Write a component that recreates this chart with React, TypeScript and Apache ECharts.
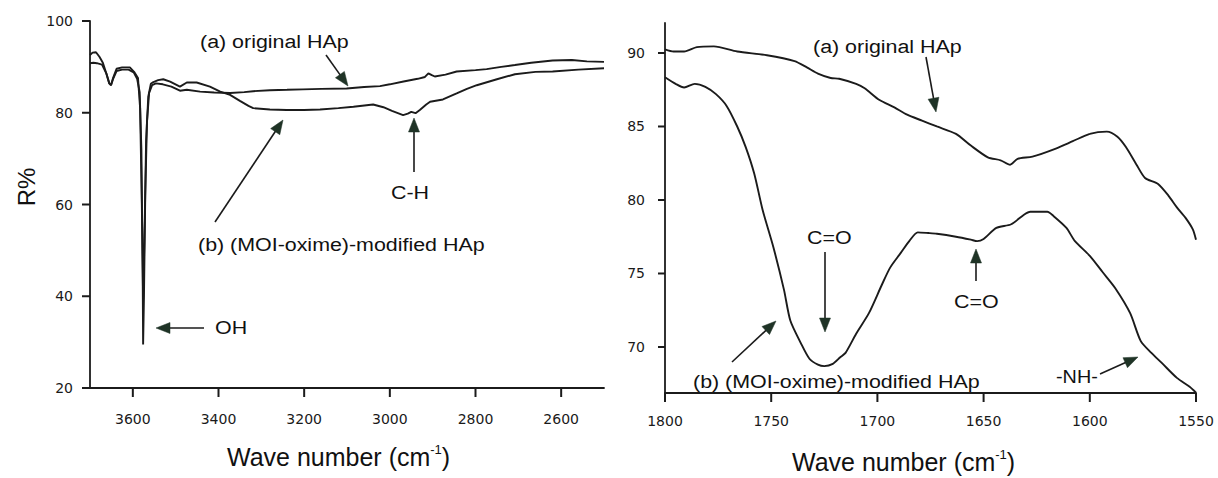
import React, { useEffect, useRef } from "react";
import * as echarts from "echarts";

// ---------- data ----------
const leftXTicks = [3600, 3400, 3200, 3000, 2800, 2600];
const leftYTicks = [20, 40, 60, 80, 100];
const rightXTicks = [1800, 1750, 1700, 1650, 1600, 1550];
const rightYTicks = [70, 75, 80, 85, 90];

// (a) original HAp, 3700-2500 cm-1
const leftOriginal: [number, number][] = [
  [3700, 90.8], [3692, 90.9], [3684, 90.8], [3672, 90.5], [3662, 88.6], [3655, 86.4], [3651, 86.0],
  [3646, 87.4], [3638, 89.1], [3625, 89.4], [3610, 89.4], [3598, 88.8], [3590, 87.4], [3584, 84.5],
  [3580, 72], [3577, 45], [3576, 29.5], [3574, 40], [3571, 62], [3567, 78], [3562, 84.3], [3555, 86.0],
  [3546, 86.4], [3530, 86.2], [3510, 85.7], [3490, 84.8], [3474, 85.0], [3443, 84.6], [3410, 84.4],
  [3373, 84.3], [3340, 84.5], [3319, 84.7], [3280, 84.9], [3240, 85.0], [3203, 85.1], [3160, 85.2],
  [3101, 85.3], [3060, 85.6], [3023, 85.8], [3000, 86.2], [2968, 86.8], [2935, 87.4], [2918, 87.8],
  [2910, 88.6], [2902, 88.2], [2895, 87.9], [2870, 88.3], [2844, 89.0], [2800, 89.3], [2774, 89.5],
  [2740, 90.0], [2708, 90.4], [2670, 90.9], [2620, 91.4], [2575, 91.5], [2540, 91.2], [2500, 91.1],
];

// (b) (MOI-oxime)-modified HAp, 3700-2500 cm-1
const leftModified: [number, number][] = [
  [3700, 92.6], [3694, 93.1], [3686, 93.2], [3678, 92.2], [3670, 90.9], [3662, 88.6], [3655, 86.4],
  [3651, 86.0], [3646, 87.6], [3638, 89.6], [3625, 89.9], [3607, 89.9], [3596, 88.8], [3588, 87.6],
  [3583, 81], [3579, 60], [3576, 39.5], [3573, 52], [3569, 74], [3564, 83.5], [3558, 86.3], [3552, 86.7],
  [3541, 87.1], [3529, 87.3], [3513, 86.8], [3490, 85.7], [3474, 86.6], [3451, 86.6], [3420, 85.7],
  [3396, 84.6], [3373, 83.9], [3350, 82.6], [3330, 81.5], [3319, 81.0], [3280, 80.7], [3241, 80.6],
  [3200, 80.6], [3163, 80.7], [3120, 81.0], [3085, 81.3], [3039, 81.8], [3015, 81.2], [2995, 80.4],
  [2969, 79.5], [2958, 79.8], [2950, 80.2], [2940, 79.9], [2930, 80.6], [2915, 81.8], [2906, 82.4],
  [2876, 82.9], [2844, 84.2], [2820, 85.2], [2797, 86.0], [2750, 87.3], [2708, 88.4], [2660, 88.9],
  [2620, 89.0], [2560, 89.4], [2500, 89.7],
];

// (a) original HAp, 1800-1550 cm-1
const rightOriginal: [number, number][] = [
  [1800, 90.25], [1796, 90.1], [1791, 90.1], [1785, 90.4], [1777, 90.45], [1766, 90.1], [1752, 89.85],
  [1739, 89.45], [1733, 89.0], [1728, 88.6], [1722, 88.3], [1718, 88.25], [1710, 87.9], [1706, 87.6],
  [1699, 86.8], [1692, 86.3], [1686, 85.8], [1679, 85.4], [1672, 85.0], [1663, 84.5], [1656, 83.7],
  [1648, 82.9], [1642, 82.7], [1637.5, 82.4], [1634, 82.8], [1627, 82.95], [1616, 83.5], [1608, 84.0],
  [1600, 84.5], [1592, 84.65], [1587, 84.3], [1583, 83.6], [1578, 82.4], [1574, 81.5], [1568, 81.1],
  [1563, 80.3], [1559, 79.5], [1555, 78.8], [1551.5, 78.0], [1550, 77.3],
];

// (b) (MOI-oxime)-modified HAp, 1800-1550 cm-1
const rightModified: [number, number][] = [
  [1800, 88.35], [1795, 87.9], [1791, 87.65], [1786, 87.9], [1781, 87.7], [1776, 87.2], [1771, 86.4],
  [1766, 85.0], [1762, 83.6], [1758, 81.8], [1754, 79.3], [1749, 76.8], [1744, 73.9], [1741, 71.8],
  [1736, 70.25], [1732, 69.2], [1728, 68.8], [1725, 68.7], [1721, 68.85], [1717.5, 69.3], [1715, 69.6],
  [1710, 70.9], [1704, 72.3], [1698, 74.2], [1694, 75.4], [1689, 76.4], [1685, 77.2], [1681, 77.8],
  [1676, 77.75], [1672, 77.7], [1663, 77.5], [1656, 77.3], [1653, 77.2], [1650, 77.35], [1644, 78.1],
  [1637, 78.35], [1631, 79.0], [1628, 79.2], [1620, 79.2], [1617, 78.9], [1611, 78.1], [1607, 77.2],
  [1600, 76.2], [1594, 75.1], [1588, 74.0], [1581, 72.3], [1576, 70.4], [1571, 69.6], [1566, 68.9],
  [1559, 67.9], [1553, 67.3], [1550, 66.9],
];

// axis extents
const leftXRange = [2500, 3700];
const leftYRange = [20, 100];
const rightXRange = [1550, 1800];
const rightYRange = [66.87, 92.04];

// ---------- styling ----------
const INK = "#1b1b1b";
const HEAD = "#1f3326";
const TEXT_FONT = '"Liberation Sans", Arial, Helvetica, sans-serif';
const TICK_FONT = '"DejaVu Sans", "Liberation Sans", sans-serif';

function label(text: string, x: number, y: number, size = 18, sx = 1.19) {
  return {
    type: "text",
    x,
    y,
    scaleX: sx,
    silent: true,
    style: {
      text,
      fill: "#111",
      font: `${size}px ${TEXT_FONT}`,
      textAlign: "left",
      textVerticalAlign: "middle",
      align: "left",
      verticalAlign: "middle",
    },
  };
}

function arrow(x1: number, y1: number, x2: number, y2: number, hl = 14, hw = 11) {
  const dx = x2 - x1;
  const dy = y2 - y1;
  const L = Math.hypot(dx, dy);
  const ux = dx / L;
  const uy = dy / L;
  const bx = x2 - ux * hl;
  const by = y2 - uy * hl;
  const px = (-uy * hw) / 2;
  const py = (ux * hw) / 2;
  return [
    {
      type: "line",
      silent: true,
      shape: { x1, y1, x2: bx + ux, y2: by + uy },
      style: { stroke: INK, lineWidth: 1.6 },
    },
    {
      type: "polygon",
      silent: true,
      shape: { points: [[x2, y2], [bx + px, by + py], [bx - px, by - py]] },
      style: { fill: HEAD, stroke: HEAD, lineWidth: 0.5 },
    },
  ];
}

function axisTitle(x: number, y: number) {
  return {
    type: "text",
    x,
    y,
    silent: true,
    style: {
      text: "{a|Wave number (cm}{s|-1}{a|)}",
      fill: "#111",
      textAlign: "left",
      textVerticalAlign: "middle",
      align: "left",
      verticalAlign: "middle",
      rich: {
        a: { fontSize: 25, fontFamily: TEXT_FONT, fill: "#111", lineHeight: 28 },
        s: { fontSize: 13, fontFamily: TEXT_FONT, fill: "#111", verticalAlign: "top", lineHeight: 14 },
      },
    },
  };
}

const axisLineStyle = { color: INK, width: 1.8 };
const plain = (v: number) => String(v);
const labelStyle = { color: "#1a1a1a", fontFamily: TICK_FONT, fontSize: 14, formatter: plain };

const annotations: any[] = [
  // left panel
  {
    type: "text",
    x: 26,
    y: 187,
    rotation: Math.PI / 2,
    silent: true,
    style: {
      text: "R%",
      fill: "#111",
      font: `24px ${TEXT_FONT}`,
      textAlign: "center",
      textVerticalAlign: "middle",
      align: "center",
      verticalAlign: "middle",
    },
  },
  axisTitle(227, 457),
  label("(a) original HAp", 200, 42),
  ...arrow(326, 55, 348, 86),
  label("(b) (MOI-oxime)-modified HAp", 198, 245),
  ...arrow(215, 222, 283, 120),
  label("C-H", 391, 193),
  ...arrow(414, 172, 414, 118),
  label("OH", 215, 328),
  ...arrow(204, 328, 156, 328),
  // right panel
  axisTitle(792, 462),
  label("(a) original HAp", 813, 47),
  ...arrow(926, 57, 936, 112),
  label("C=O", 807, 238),
  ...arrow(825, 252, 825, 332),
  label("C=O", 954, 302),
  ...arrow(976, 281, 976, 249),
  label("(b) (MOI-oxime)-modified HAp", 693, 382),
  ...arrow(732, 362, 776, 321),
  label("-NH-", 1056, 377, 18, 1.1),
  ...arrow(1100, 374, 1138, 357),
];

export default function App() {
  const ref = useRef<HTMLDivElement>(null);

  useEffect(() => {
    if (!ref.current) return;
    const chart = echarts.init(ref.current, undefined, { renderer: "svg" });

    const lineSeries = (data: [number, number][], idx: number, name: string, smooth: number | boolean) => ({
      type: "line",
      name,
      xAxisIndex: idx,
      yAxisIndex: idx,
      data,
      showSymbol: false,
      symbol: "none",
      smooth,
      clip: true,
      lineStyle: { color: INK, width: 1.9 },
      emphasis: { disabled: true },
      silent: true,
    });

    const option: any = {
      animation: false,
      backgroundColor: "#ffffff",
      grid: [
        { left: 90, top: 21, width: 514, height: 367, containLabel: false, outerBoundsMode: "none" },
        { left: 665, top: 23, width: 531, height: 370, containLabel: false, outerBoundsMode: "none" },
      ],
      xAxis: [
        {
          type: "value",
          gridIndex: 0,
          min: leftXRange[0],
          max: leftXRange[1],
          inverse: true,
          position: "bottom",
          axisLine: { show: true, onZero: false, lineStyle: axisLineStyle },
          axisTick: { show: false },
          axisLabel: { show: true, customValues: leftXTicks, margin: 24, ...labelStyle },
          splitLine: { show: false },
        },
        {
          type: "value",
          gridIndex: 1,
          min: rightXRange[0],
          max: rightXRange[1],
          interval: 50,
          inverse: true,
          position: "bottom",
          axisLine: { show: true, onZero: false, lineStyle: axisLineStyle },
          axisTick: { show: false },
          axisLabel: { show: true, margin: 21, ...labelStyle },
          splitLine: { show: false },
        },
      ],
      yAxis: [
        {
          type: "value",
          gridIndex: 0,
          min: leftYRange[0],
          max: leftYRange[1],
          interval: 20,
          axisLine: { show: true, onZero: false, lineStyle: axisLineStyle },
          axisTick: { show: false },
          axisLabel: { show: true, margin: 17, ...labelStyle },
          splitLine: { show: false },
        },
        {
          type: "value",
          gridIndex: 1,
          min: rightYRange[0],
          max: rightYRange[1],
          axisLine: { show: true, onZero: false, lineStyle: axisLineStyle },
          axisTick: { show: false },
          axisLabel: { show: true, customValues: rightYTicks, margin: 20, ...labelStyle },
          splitLine: { show: false },
        },
      ],
      series: [
        lineSeries(leftOriginal, 0, "(a) original HAp", false),
        lineSeries(leftModified, 0, "(b) (MOI-oxime)-modified HAp", false),
        lineSeries(rightOriginal, 1, "(a) original HAp", 0.25),
        lineSeries(rightModified, 1, "(b) (MOI-oxime)-modified HAp", 0.25),
      ],
    };

    chart.setOption(option);

    // tick marks placed through the axes' own scales
    const ticks: any[] = [];
    const tick = (x1: number, y1: number, x2: number, y2: number) =>
      ticks.push({
        type: "line",
        silent: true,
        z: 10,
        shape: { x1, y1, x2, y2 },
        style: { stroke: INK, lineWidth: 2 },
      });
    const toPx = (grid: number, v: [number, number]) =>
      chart.convertToPixel({ gridIndex: grid } as any, v) as unknown as number[];
    leftXTicks.forEach((v) => {
      const p = toPx(0, [v, leftYRange[0]]);
      if (p) tick(p[0], p[1], p[0], p[1] + 9);
    });
    leftYTicks.forEach((v) => {
      const p = toPx(0, [leftXRange[1], v]);
      if (p) tick(p[0] - 8, p[1], p[0], p[1]);
    });
    rightXTicks.forEach((v) => {
      const p = toPx(1, [v, rightYRange[0]]);
      if (p) tick(p[0], p[1], p[0], p[1] + 9);
    });
    rightYTicks.forEach((v) => {
      const p = toPx(1, [rightXRange[1], v]);
      if (p) tick(p[0] - 7, p[1], p[0], p[1]);
    });

    chart.setOption({ graphic: [...annotations, ...ticks] });
    return () => chart.dispose();
  }, []);

  return (
    <div
      ref={ref}
      style={{ position: "fixed", left: 0, top: 0, width: 1218, height: 478, background: "#fff" }}
    />
  );
}
